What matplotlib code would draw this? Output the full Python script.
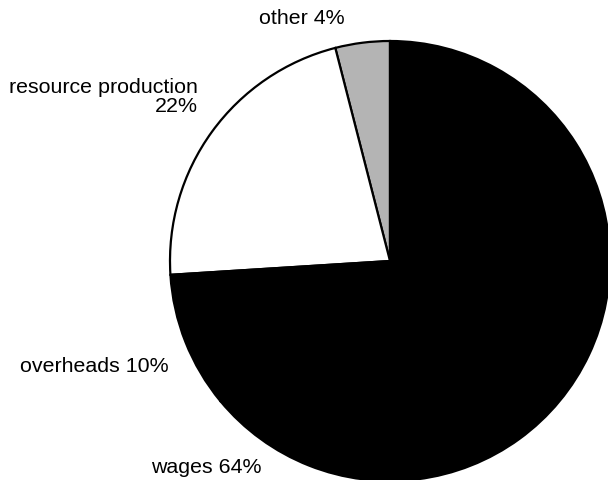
import matplotlib.pyplot as plt

# cost breakdown, in percent, counter-clockwise from 12 o'clock
categories = ['other', 'resource production', 'overheads', 'wages']
shares = [4, 22, 10, 64]
colors = ['#b4b4b4', 'white', 'black', 'black']

plt.rcParams['font.family'] = ['Liberation Sans', 'DejaVu Sans']

fig = plt.figure(figsize=(6.08, 4.81), dpi=100)
ax = fig.add_axes([0, 0, 1, 1])

ax.pie(shares, colors=colors, startangle=90, counterclock=True, radius=1.0,
       wedgeprops=dict(edgecolor='black', linewidth=1.6))

# labels placed by hand like in the original figure
fs = 15.4
ax.text(-0.40, 1.105, f'{categories[0]} {shares[0]}%', ha='center', va='center', fontsize=fs)
ax.text(-0.873, 0.75, f'{categories[1]}\n{shares[1]}%', ha='right', va='center',
        multialignment='right', fontsize=fs, linespacing=0.98)
ax.text(-1.682, -0.473, f'{categories[2]} {shares[2]}%', ha='left', va='center', fontsize=fs)
ax.text(-1.086, -0.932, f'{categories[3]} {shares[3]}%', ha='left', va='center', fontsize=fs)

ax.set_xlim(-390 / 220, 218 / 220)
ax.set_ylim(-219 / 220, 262 / 220)
ax.set_aspect('auto')
ax.axis('off')

fig.savefig('out.png', dpi=100)
